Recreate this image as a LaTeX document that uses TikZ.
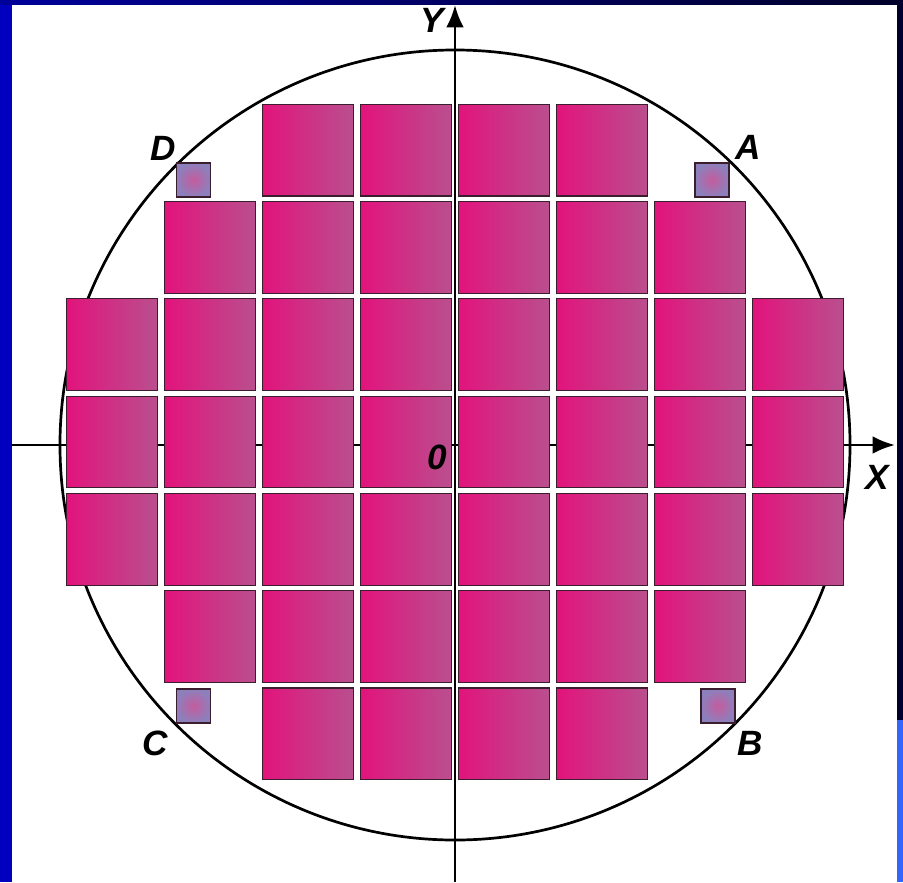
\documentclass[tikz,border=0pt]{standalone}
\usepackage{fontspec}
\setmainfont{Liberation Sans}
\usepackage{xcolor}
\usepackage{tikz}
\usetikzlibrary{arrows.meta}

\definecolor{dieleft}{HTML}{E2137C}
\definecolor{dieright}{HTML}{B9508E}
\definecolor{dieedge}{HTML}{3A1E2E}
\definecolor{testout}{HTML}{8C80BC}
\definecolor{testin}{HTML}{C45C9E}
\definecolor{frametop}{HTML}{00009A}
\definecolor{framedark}{HTML}{00002A}
\definecolor{frameleft}{HTML}{0000BE}
\definecolor{framelight}{HTML}{3366FF}

\begin{document}
\begin{tikzpicture}[
    x=0.03cm, y=0.03cm,
    die/.style={rectangle, draw=dieedge, line width=1pt, inner sep=0pt, minimum size=2.75cm, left color=dieleft, right color=dieright},
    testdie/.style={rectangle, draw=dieedge, line width=1pt, inner sep=0pt, minimum size=1.02cm, inner color=testin, outer color=testout},
    lbl/.style={font=\fontsize{30}{30}\selectfont\bfseries\itshape, inner sep=0pt},
    axis/.style={line width=2.3pt, -{Latex[length=19pt, width=15pt]}},
]

% --- Frame ---
\useasboundingbox (-455,-437) rectangle (448,445);
\fill[framedark] (-455,-437) rectangle (448,445);
\shade[left color=frametop, right color=framedark] (-455,440) rectangle (448,445);
\fill[frameleft] (-455,-437) rectangle (-443,440);
\fill[framelight] (442,-437) rectangle (448,-275);
\fill[white] (-443,-437) rectangle (442,440);

% --- Wafer and axes ---
\node[circle, draw, line width=2.3pt, minimum size=23.7cm, inner sep=0pt] (wafer) at (0,0) {};
\coordinate (xs) at (-443,0);
\coordinate (xe) at (440,0);
\coordinate (ys) at (0,-437);
\coordinate (ye) at (0,440);
\draw[axis] (xs) -- (xe);
\draw[axis] (ys) -- (ye);

% --- Dies, row by row ---
\foreach \c in {3,...,6} {\node[die] (d1-\c) at ({98*(\c-4.5)}, 294.9) {};}
\foreach \c in {2,...,7} {\node[die] (d2-\c) at ({98*(\c-4.5)}, 197.6) {};}
\foreach \c in {1,...,8} {\node[die] (d3-\c) at ({98*(\c-4.5)}, 100.3) {};}
\foreach \c in {1,...,8} {\node[die] (d4-\c) at ({98*(\c-4.5)}, 3) {};}
\foreach \c in {1,...,8} {\node[die] (d5-\c) at ({98*(\c-4.5)}, -94.3) {};}
\foreach \c in {2,...,7} {\node[die] (d6-\c) at ({98*(\c-4.5)}, -191.6) {};}
\foreach \c in {3,...,6} {\node[die] (d7-\c) at ({98*(\c-4.5)}, -288.9) {};}

% --- Test dies ---
\node[testdie] (tA) at (257,265) {};
\node[testdie] (tB) at (263,-261) {};
\node[testdie] (tC) at (-261.5,-261) {};
\node[testdie] (tD) at (-261.5,265) {};
\node[lbl] (lA) at (293,298) {A};
\node[lbl] (lB) at (295,-298) {B};
\node[lbl] (lC) at (-300,-298) {C};
\node[lbl] (lD) at (-292,297) {D};

% --- Axis labels ---
\node[lbl] (lX) at (422,-32) {X};
\node[lbl] (lY) at (-23,425) {Y};
\node[lbl] (lO) at (-18,-12) {0};

\end{tikzpicture}
\end{document}
